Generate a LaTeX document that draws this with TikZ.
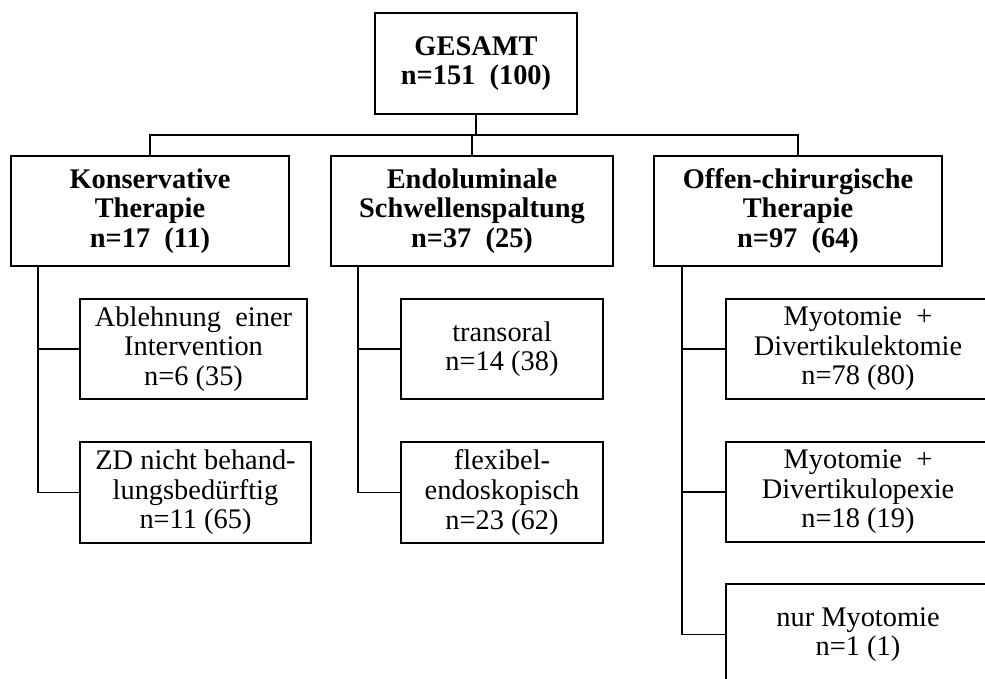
\documentclass[tikz,border=0pt]{standalone}
\usepackage{fontspec}
\setmainfont{Liberation Serif}

\begin{document}
\begin{tikzpicture}[x=0.5pt,y=-0.5pt,
    box/.style={draw, line width=0.8pt, align=center, inner sep=0pt,
      font=\fontsize{14.2}{14.8}\selectfont},
    head/.style={box, font=\fontsize{14.2}{14.8}\selectfont\bfseries},
    link/.style={line width=0.8pt}]
  \useasboundingbox (0,0) rectangle (985,679);
  \clip (0,0) rectangle (985,679);
  % Gesamt
  \node[head, minimum width=101pt, minimum height=50.5pt] (gesamt) at (476,63.5) {GESAMT\\n=151 \ (100)};
  % Therapiegruppen
  \node[head, minimum width=139pt, minimum height=55pt] (kons) at (150,211) {Konservative\\Therapie\\n=17 \ (11)};
  \node[head, minimum width=141pt, minimum height=55pt] (endo) at (472,211) {Endoluminale\\Schwellenspaltung\\n=37 \ (25)};
  \node[head, minimum width=144pt, minimum height=55pt] (offen) at (798,211) {Offen-chirurgische\\Therapie\\n=97 \ (64)};
  % Konservativ
  \node[box, minimum width=113.5pt, minimum height=50pt] (abl) at (193.5,349) {Ablehnung \ einer\\Intervention\\n=6 (35)};
  \node[box, minimum width=115.5pt, minimum height=50.5pt] (zd) at (195.5,492.5) {ZD nicht behand-\\lungsbedürftig\\n=11 (65)};
  % Endoluminal
  \node[box, minimum width=101pt, minimum height=50pt] (trans) at (502,349) {transoral\\n=14 (38)};
  \node[box, minimum width=101pt, minimum height=50.5pt] (flex) at (502,492.5) {flexibel-\\endoskopisch\\n=23 (62)};
  % Offen-chirurgisch
  \node[box, minimum width=132pt, minimum height=50pt] (myoekt) at (858,349) {Myotomie \ +\\Divertikulektomie\\n=78 (80)};
  \node[box, minimum width=132pt, minimum height=50pt] (myopex) at (858,492) {Myotomie \ +\\Divertikulopexie\\n=18 (19)};
  \node[box, minimum width=132pt, minimum height=50.5pt] (myonur) at (858,634.5) {nur Myotomie\\n=1 (1)};
  % Verzweigung oben
  \coordinate (bus) at (476,135);
  \draw[link] (gesamt.south) -- (bus);
  \draw[link] (kons.north) |- (bus) -| (offen.north);
  \draw[link] (endo.north) -- (endo.north |- bus);
  % Seitenstraenge
  \coordinate (kspine) at ([xshift=14pt]kons.south west);
  \coordinate (espine) at ([xshift=14pt]endo.south west);
  \coordinate (ospine) at ([xshift=14.5pt]offen.south west);
  \draw[link] (kspine) |- (zd.west);
  \draw[link] (abl.west) -- (abl.west -| kspine);
  \draw[link] (espine) |- (flex.west);
  \draw[link] (trans.west) -- (trans.west -| espine);
  \draw[link] (ospine) |- (myonur.west);
  \draw[link] (myoekt.west) -- (myoekt.west -| ospine);
  \draw[link] (myopex.west) -- (myopex.west -| ospine);
\end{tikzpicture}
\end{document}
